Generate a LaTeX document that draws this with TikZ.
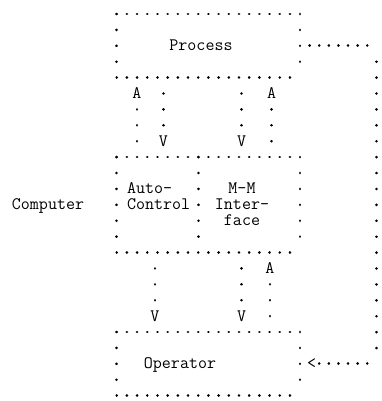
\documentclass[tikz,border=0pt]{standalone}
\usepackage{tikz}

\begin{document}
\begin{tikzpicture}[x=1pt, y=-1pt,
  box/.style={minimum width=183.3pt, minimum height=63.61pt, inner sep=0pt, outer sep=0pt},
  tt/.style={font=\ttfamily\fontsize{17.5}{15.9}\selectfont, inner sep=0pt, outer sep=0pt},
  hdots/.style={line width=2.8pt, line cap=round, dash pattern=on 0.01pt off 10.18pt},
  vdots/.style={line width=2.8pt, line cap=round, dash pattern=on 0.01pt off 15.9pt},
  ldots/.style={line width=2.8pt, line cap=round, dash pattern=on 0.01pt off 9.6pt},
  skipdot/.style={dash phase=0.02pt}
]
\useasboundingbox (0,0) rectangle (381,401);

% boxes
\node[box] (process) at (208.35,45.8) {};
\node[box, minimum height=95.41pt] (comp) at (208.35,204.8) {};
\node[box] (operator) at (208.35,363.8) {};

\foreach \b in {process,comp,operator} {
  \draw[hdots] (\b.north west) -- (\b.north east);
  \draw[hdots] (\b.south west) -- (\b.south east);
  \draw[vdots] (\b.north west) -- (\b.south west);
  \draw[vdots] (\b.north east) -- (\b.south east);
}
\coordinate (div) at (198.3,204.8);
\draw[vdots] (div |- comp.north) -- (div |- comp.south);

% texts
\node[tt, anchor=base] (plab) at (201,50.8) {Process};
\node[tt, anchor=base] (oplab) at (180,368.8) {Operator};
\node[tt, anchor=base] (complab) at (48,209.8) {Computer};
\node[tt, anchor=base west, align=left] (autolab) at (127,209.8) {Auto-\\Control};
\node[tt, anchor=base, align=center] (mmlab) at (242,225.7) {M-M\\Inter-\\face};

% arrow heads
\node[tt] (pa1) at (137,93.5) {A};
\node[tt] (pv1) at (163.5,141.2) {V};
\node[tt] (pv2) at (241.7,141.2) {V};
\node[tt] (pa2) at (271.7,93.5) {A};
\node[tt] (cv1) at (155,316.1) {V};
\node[tt] (cv2) at (241.7,316.1) {V};
\node[tt] (ca1) at (270,268.4) {A};
\node[tt] (lt) at (311.7,363.8) {<};

\draw[vdots, skipdot] (pa1 |- comp.north) -- (pa1.south);
\draw[vdots, skipdot] (pv1 |- process.south) -- (pv1.north);
\draw[vdots, skipdot] (pv2 |- process.south) -- (pv2.north);
\draw[vdots, skipdot] (pa2 |- comp.north) -- (pa2.south);
\draw[vdots, skipdot] (cv1 |- comp.south) -- (cv1.north);
\draw[vdots, skipdot] (cv2 |- comp.south) -- (cv2.north);
\draw[vdots, skipdot] (ca1 |- operator.north) -- (ca1.south);

% feedback loop
\coordinate (ne) at (376.85,45.8);
\coordinate (se) at (376.85,363.8);
\draw[ldots, skipdot] (process.east) -- (ne);
\draw[vdots, skipdot] (ne) -- (se);
\draw[ldots, skipdot] (se) -- (lt.east);

\end{tikzpicture}
\end{document}
